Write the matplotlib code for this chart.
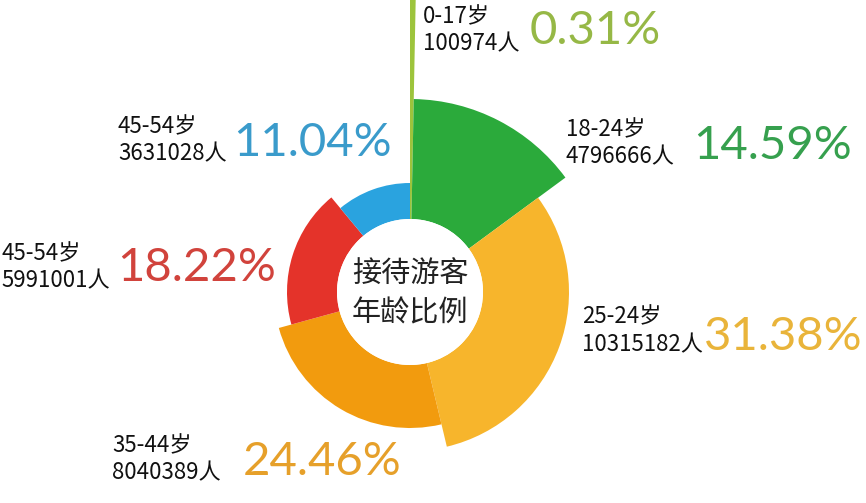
import matplotlib
matplotlib.use("Agg")
import matplotlib.pyplot as plt
from matplotlib.patches import Wedge, Circle

plt.rcParams['font.family'] = ['Noto Sans CJK SC', 'DejaVu Sans']

# ---- data ----
age_groups = ["0-17岁", "18-24岁", "25-24岁", "35-44岁", "45-54岁", "45-54岁"]
visitors = ["100974人", "4796666人", "10315182人", "8040389人", "5991001人", "3631028人"]
shares = [0.31, 14.59, 31.38, 24.46, 18.22, 11.04]
pct_labels = ["0.31%", "14.59%", "31.38%", "24.46%", "18.22%", "11.04%"]
center_title = "接待游客\n年龄比例"

# ---- style ----
W, H = 866, 503
cx, cy_px = 410, 292
inner_r = 73
outer_r = [320, 193, 159, 136, 123, 109]
wedge_colors = ["#9DC43C", "#2BAA3B", "#F7B52C", "#F29B0E", "#E4332A", "#2AA3DF"]
pct_colors = ["#96B846", "#36A04E", "#E9B43A", "#E6A02A", "#D1433C", "#3A9BCB"]
# label anchor (x, y of first text line centre) and percent anchor (left x, centre y), pixel coords
label_pos = [(423, 17), (566, 130), (582, 317), (112, 446), (1, 254), (118, 127)]
label_gap = [27, 27, 28, 27, 27, 27]
pct_pos = [(530, 31), (693, 146), (704, 337), (243, 462), (117, 268), (233, 143)]

fig = plt.figure(figsize=(W / 100, H / 100), dpi=100)
ax = fig.add_axes([0, 0, 1, 1])
ax.set_xlim(0, W)
ax.set_ylim(0, H)
ax.set_aspect('equal')
ax.axis('off')

cy = H - cy_px
total = sum(shares)
start = 0.0
for i, s in enumerate(shares):
    span = 360.0 * s / total
    t1 = 90 - (start + span)
    t2 = 90 - start
    ax.add_patch(Wedge((cx, cy), outer_r[i], t1, t2, width=outer_r[i] - inner_r,
                       facecolor=wedge_colors[i], edgecolor='none'))
    start += span

ax.add_patch(Circle((cx, cy), inner_r, facecolor='white', edgecolor='none'))
ax.text(cx, cy - 2, center_title, ha='center', va='center', fontsize=21,
        linespacing=1.35, color='#222222')

for i in range(len(shares)):
    lx, ly = label_pos[i]
    ax.text(lx, H - ly, age_groups[i], ha='left', va='center', fontsize=16, color='#111111')
    ax.text(lx, H - ly - label_gap[i], visitors[i], ha='left', va='center', fontsize=16, color='#111111')
    px, py = pct_pos[i]
    ax.text(px, H - py, pct_labels[i], ha='left', va='center', fontsize=34,
            family=['Lato', 'DejaVu Sans'], fontweight='normal', color=pct_colors[i])

fig.savefig("out.png", dpi=100)
